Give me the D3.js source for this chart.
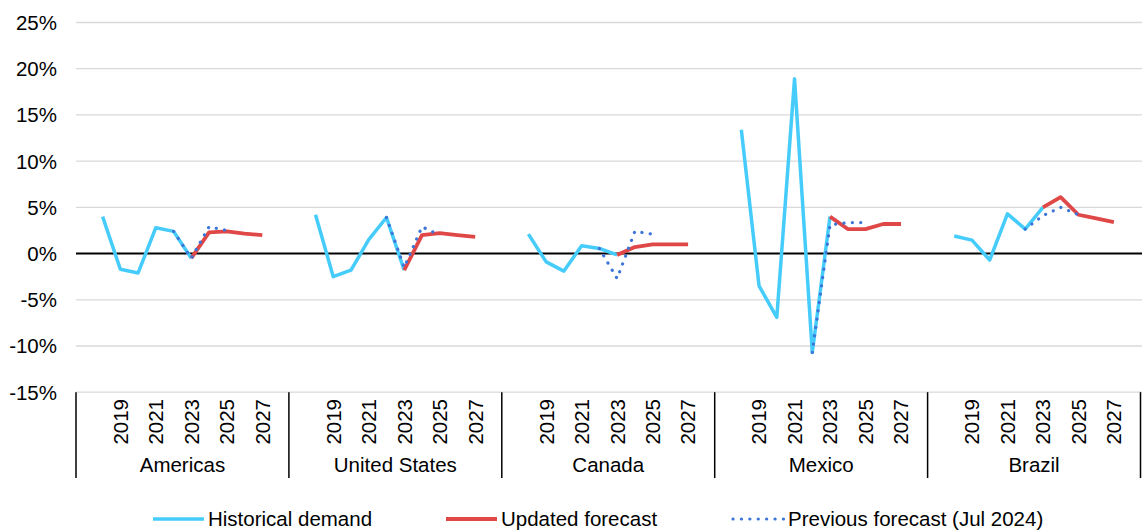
<!DOCTYPE html>
<html>
<head>
<meta charset="utf-8">
<script src="https://cdn.jsdelivr.net/npm/d3@7"></script>
<style>
  body { margin: 0; background: #fff; }
  svg { display: block; font-family: "Liberation Sans", Arial, sans-serif; }
</style>
</head>
<body>
<svg id="chart" width="1142" height="531"></svg>
<script>
// regions and years on the category axis
const groups = ['Americas', 'United States', 'Canada', 'Mexico', 'Brazil'];
const years = [2018, 2019, 2020, 2021, 2022, 2023, 2024, 2025, 2026, 2027];
const histYears = [2018, 2019, 2020, 2021, 2022, 2023];
const updYears = [2023, 2024, 2025, 2026, 2027];
const prevYears = [2022, 2023, 2024, 2025];
const yTicks = [-15, -10, -5, 0, 5, 10, 15, 20, 25];

// growth in %, one row per region (same order as groups)
const historical = [
  [4.0, -1.7, -2.1, 2.8, 2.4, -0.5],
  [4.2, -2.5, -1.8, 1.5, 3.9, -1.8],
  [2.1, -0.9, -1.9, 0.85, 0.55, -0.15],
  [13.4, -3.5, -6.9, 18.9, -10.7, 4.0],
  [1.9, 1.45, -0.7, 4.3, 2.65, 5.0]
];
const updated = [
  [-0.5, 2.3, 2.4, 2.15, 2.0],
  [-1.8, 2.0, 2.2, 2.0, 1.8],
  [-0.15, 0.7, 1.0, 1.0, 1.0],
  [4.0, 2.65, 2.65, 3.2, 3.2],
  [5.0, 6.1, 4.2, 3.8, 3.4]
];
const previous = [
  [2.4, -0.5, 2.9, 2.5],
  [3.9, -1.5, 2.9, 2.0],
  [0.55, -2.7, 2.4, 2.1],
  [-10.7, 3.1, 3.35, 3.35],
  [2.65, 4.1, 5.0, 4.2]
];

const svg = d3.select('#chart');
const plotLeft = 76, plotRight = 1140.5, plotTop = 22.5, plotBottom = 392.2;
const fontSize = 20.5;

const y = d3.scaleLinear().domain([-15, 25]).range([plotBottom, plotTop]);

// outer band per region, inner band of 12 slots (blank, 2018..2027, blank)
const xGroup = d3.scaleBand().domain(groups).range([plotLeft, plotRight]);
const slots = d3.range(12);
const xSlot = d3.scaleBand().domain(slots).range([0, xGroup.bandwidth()]);
const xPos = (g, yr) => xGroup(g) + xSlot(yr - 2017) + xSlot.bandwidth() / 2;

// gridlines + y labels
svg.append('g')
  .selectAll('line')
  .data(yTicks.filter(d => d !== 0))
  .join('line')
    .attr('x1', plotLeft).attr('x2', 1142)
    .attr('y1', d => y(d)).attr('y2', d => y(d))
    .attr('stroke', '#d9d9d9')
    .attr('stroke-width', 1.3);

svg.append('g')
  .selectAll('text')
  .data(yTicks)
  .join('text')
    .attr('x', 57)
    .attr('y', d => y(d))
    .attr('dy', '0.36em')
    .attr('text-anchor', 'end')
    .attr('font-size', fontSize)
    .attr('fill', '#000')
    .text(d => d + '%');

// zero line
svg.append('line')
  .attr('x1', plotLeft).attr('x2', 1142)
  .attr('y1', y(0)).attr('y2', y(0))
  .attr('stroke', '#000')
  .attr('stroke-width', 2);

// category axis: dividers, years, region names
const catAxis = svg.append('g');
catAxis.selectAll('line')
  .data(groups.concat(['end']))
  .join('line')
    .attr('x1', d => d === 'end' ? plotRight : xGroup(d))
    .attr('x2', d => d === 'end' ? plotRight : xGroup(d))
    .attr('y1', plotBottom)
    .attr('y2', 478)
    .attr('stroke', '#000')
    .attr('stroke-width', 1.5);

groups.forEach(g => {
  catAxis.append('g')
    .selectAll('text')
    .data(years.filter(yr => yr % 2 === 1))
    .join('text')
      .attr('transform', yr => `translate(${xPos(g, yr)},399) rotate(-90)`)
      .attr('text-anchor', 'end')
      .attr('dy', '0.36em')
      .attr('font-size', fontSize)
      .text(yr => yr);

  catAxis.append('text')
    .attr('x', xGroup(g) + xGroup.bandwidth() / 2)
    .attr('y', 472)
    .attr('text-anchor', 'middle')
    .attr('font-size', fontSize)
    .text(g);
});

// series lines
const line = d3.line().x(d => d.x).y(d => y(d.v));

function drawSeries(rows, yrs, style) {
  svg.append('g')
    .selectAll('path')
    .data(groups.map((g, gi) => rows[gi].map((v, i) => ({ x: xPos(g, yrs[i]), v }))))
    .join('path')
      .attr('d', line)
      .attr('fill', 'none')
      .attr('stroke', style.color)
      .attr('stroke-width', style.width)
      .attr('stroke-linejoin', 'round')
      .attr('stroke-linecap', style.dash ? 'round' : 'butt')
      .attr('stroke-dasharray', style.dash || null);
}

const series = [
  { name: 'Historical demand', color: '#45CCFB', width: 3.5 },
  { name: 'Updated forecast', color: '#E04848', width: 3.8 },
  { name: 'Previous forecast (Jul 2024)', color: '#3C74D8', width: 3.2, dash: '0.1 8.3' }
];

drawSeries(historical, histYears, series[0]);
drawSeries(updated, updYears, series[1]);
drawSeries(previous, prevYears, series[2]);

// legend
const legendX = [153, 446, 733];
const leg = svg.append('g')
  .selectAll('g')
  .data(series)
  .join('g')
    .attr('transform', (d, i) => `translate(${legendX[i]},519)`);

leg.append('line')
  .attr('x1', 0).attr('x2', 51)
  .attr('stroke', d => d.color)
  .attr('stroke-width', d => d.width)
  .attr('stroke-linecap', d => d.dash ? 'round' : 'butt')
  .attr('stroke-dasharray', d => d.dash || null);

leg.append('text')
  .attr('x', 55)
  .attr('dy', '0.36em')
  .attr('font-size', fontSize)
  .text(d => d.name);
</script>
</body>
</html>
